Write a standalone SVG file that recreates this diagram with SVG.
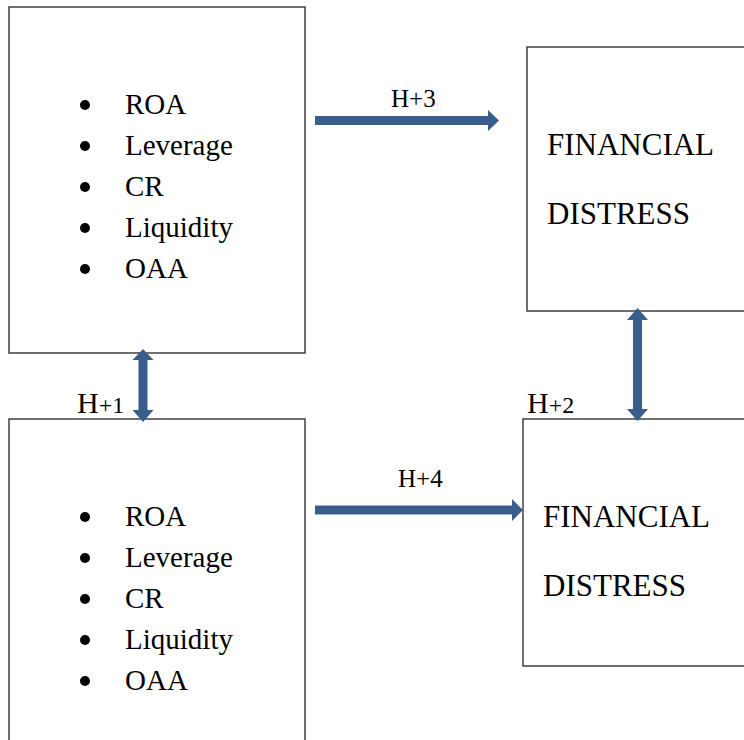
<svg xmlns="http://www.w3.org/2000/svg" width="744" height="740" viewBox="0 0 744 740">
<style>
.box{fill:#fff;stroke:#222;stroke-width:1.3}
.t{font-family:"Liberation Serif","Times New Roman",serif;fill:#000}
.li{font-size:29px}
.fd{font-size:31px}
.hl{font-size:25px}
.arr{fill:#3A5E8C}
.dot{fill:#000}
</style>
<rect width="744" height="740" fill="#fff"/>
<g id="node-vars-top">
<rect class="box" x="9" y="7" width="296" height="346"/>
<circle class="dot" cx="85" cy="105" r="5"/>
<circle class="dot" cx="85" cy="146" r="5"/>
<circle class="dot" cx="85" cy="187" r="5"/>
<circle class="dot" cx="85" cy="228" r="5"/>
<circle class="dot" cx="85" cy="269" r="5"/>
<text class="t li" x="125" y="114">ROA</text>
<text class="t li" x="125" y="155">Leverage</text>
<text class="t li" x="125" y="196">CR</text>
<text class="t li" x="125" y="237">Liquidity</text>
<text class="t li" x="125" y="278">OAA</text>
</g>
<g id="node-vars-bottom">
<rect class="box" x="9" y="419" width="296" height="330"/>
<circle class="dot" cx="85" cy="517" r="5"/>
<circle class="dot" cx="85" cy="558" r="5"/>
<circle class="dot" cx="85" cy="599" r="5"/>
<circle class="dot" cx="85" cy="640" r="5"/>
<circle class="dot" cx="85" cy="681" r="5"/>
<text class="t li" x="125" y="526">ROA</text>
<text class="t li" x="125" y="567">Leverage</text>
<text class="t li" x="125" y="608">CR</text>
<text class="t li" x="125" y="649">Liquidity</text>
<text class="t li" x="125" y="690">OAA</text>
</g>
<g id="node-fd-top">
<rect class="box" x="527" y="47" width="230" height="264"/>
<text class="t fd" x="547" y="155">FINANCIAL</text>
<text class="t fd" x="547" y="224">DISTRESS</text>
</g>
<g id="node-fd-bottom">
<rect class="box" x="523" y="419" width="230" height="247"/>
<text class="t fd" x="543" y="527">FINANCIAL</text>
<text class="t fd" x="543" y="596">DISTRESS</text>
</g>
<g id="connectors">
<polygon class="arr" points="315,116 488,116 488,110 499,120.5 488,131 488,125 315,125"/>
<polygon class="arr" points="315,505.5 512,505.5 512,499 523,510 512,521 512,514.5 315,514.5"/>
<polygon class="arr" points="143,349 153.5,360 147.5,360 147.5,410 153.5,410 143,422 132.5,410 138.5,410 138.5,360 132.5,360"/>
<polygon class="arr" points="637.5,308 648,320 642,320 642,409 648,409 637.5,421 627,409 633,409 633,320 627,320"/>
<text class="t hl" x="391" y="107">H+3</text>
<text class="t hl" x="398" y="487">H+4</text>
<text class="t" x="77" y="413"><tspan font-size="30">H</tspan><tspan font-size="24">+1</tspan></text>
<text class="t" x="527" y="413"><tspan font-size="30">H</tspan><tspan font-size="24">+2</tspan></text>
</g>
</svg>
